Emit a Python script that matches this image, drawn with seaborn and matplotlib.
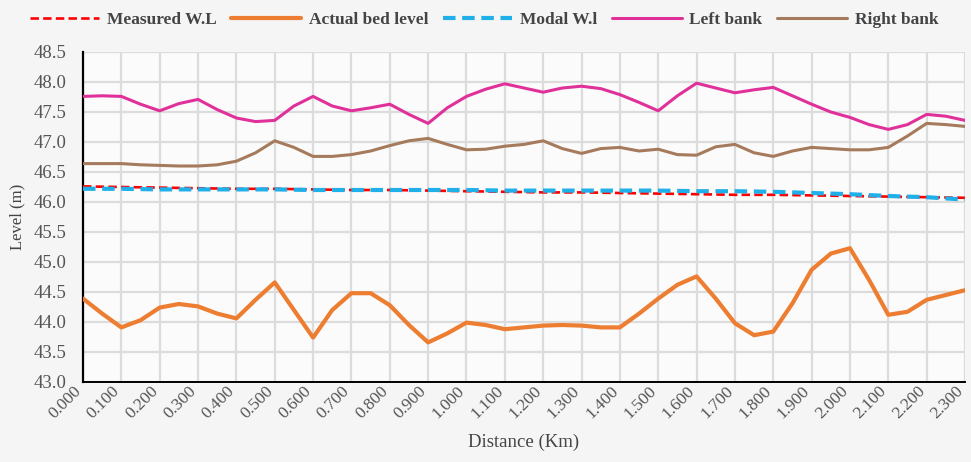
import numpy as np
import pandas as pd
import matplotlib
matplotlib.use("Agg")
import matplotlib.pyplot as plt
import matplotlib.transforms as mtransforms
import seaborn as sns

# ---------------- data ----------------
dist_wl = [0.0, 0.1, 0.2, 0.3, 0.4, 0.5, 0.6, 0.7, 0.8, 0.9, 1.0, 1.1,
           1.2, 1.3, 1.4, 1.5, 1.6, 1.7, 1.8, 1.9, 2.0, 2.1, 2.2, 2.3]
measured_wl = [46.26, 46.25, 46.24, 46.23, 46.22, 46.22, 46.21, 46.20, 46.20, 46.19,
               46.18, 46.17, 46.16, 46.16, 46.15, 46.14, 46.13, 46.12, 46.12, 46.11,
               46.10, 46.09, 46.08, 46.07]
modal_wl = [46.22, 46.22, 46.21, 46.21, 46.21, 46.21, 46.20, 46.20, 46.20, 46.20,
            46.20, 46.19, 46.19, 46.19, 46.19, 46.19, 46.18, 46.18, 46.17, 46.15,
            46.13, 46.10, 46.08, 46.04]

dist_fine = [0.00, 0.05, 0.10, 0.15, 0.20, 0.25, 0.30, 0.35, 0.40, 0.45, 0.50, 0.55,
             0.60, 0.65, 0.70, 0.75, 0.80, 0.85, 0.90, 0.95, 1.00, 1.05, 1.10, 1.15,
             1.20, 1.25, 1.30, 1.35, 1.40, 1.45, 1.50, 1.55, 1.60, 1.65, 1.70, 1.75,
             1.80, 1.85, 1.90, 1.95, 2.00, 2.05, 2.10, 2.15, 2.20, 2.25, 2.30]
actual_bed = [44.39, 44.14, 43.91, 44.03, 44.24, 44.30, 44.26, 44.14, 44.06, 44.37,
              44.66, 44.20, 43.74, 44.20, 44.48, 44.48, 44.28, 43.95, 43.66, 43.81,
              43.99, 43.95, 43.88, 43.91, 43.94, 43.95, 43.94, 43.91, 43.91, 44.14,
              44.39, 44.62, 44.76, 44.39, 43.98, 43.78, 43.84, 44.31, 44.87, 45.14,
              45.23, 44.70, 44.12, 44.17, 44.37, 44.45, 44.53]
left_bank = [47.76, 47.77, 47.76, 47.63, 47.52, 47.64, 47.71, 47.54, 47.40, 47.34,
             47.36, 47.60, 47.76, 47.60, 47.52, 47.57, 47.63, 47.46, 47.31, 47.57,
             47.76, 47.88, 47.97, 47.90, 47.83, 47.90, 47.93, 47.89, 47.79, 47.66,
             47.52, 47.77, 47.98, 47.90, 47.82, 47.87, 47.91, 47.77, 47.63, 47.50,
             47.41, 47.29, 47.21, 47.29, 47.46, 47.43, 47.36]
right_bank = [46.64, 46.64, 46.64, 46.62, 46.61, 46.60, 46.60, 46.62, 46.68, 46.82,
              47.02, 46.91, 46.76, 46.76, 46.79, 46.85, 46.94, 47.02, 47.06, 46.96,
              46.87, 46.88, 46.93, 46.96, 47.02, 46.89, 46.81, 46.89, 46.91, 46.85,
              46.88, 46.79, 46.78, 46.92, 46.96, 46.82, 46.76, 46.85, 46.91, 46.89,
              46.87, 46.87, 46.91, 47.10, 47.31, 47.29, 47.26]

x_ticks = [0.0, 0.1, 0.2, 0.3, 0.4, 0.5, 0.6, 0.7, 0.8, 0.9, 1.0, 1.1,
           1.2, 1.3, 1.4, 1.5, 1.6, 1.7, 1.8, 1.9, 2.0, 2.1, 2.2, 2.3]
y_ticks = [43.0, 43.5, 44.0, 44.5, 45.0, 45.5, 46.0, 46.5, 47.0, 47.5, 48.0, 48.5]

df_wl = pd.DataFrame({"dist": dist_wl, "measured": measured_wl, "modal": modal_wl})
df_fine = pd.DataFrame({"dist": dist_fine, "bed": actual_bed,
                        "left": left_bank, "right": right_bank})

# ---------------- style ----------------
sns.set_theme(style="white")
plt.rcParams["font.family"] = ["Liberation Serif", "DejaVu Serif"]

fig = plt.figure(figsize=(9.71, 4.62), dpi=100, facecolor="#f5f5f5")
ax = fig.add_axes([83 / 971, 1 - 382 / 462, (965 - 83) / 971, (382 - 52) / 462])
ax.set_facecolor("#fbfbfb")

sns.lineplot(data=df_wl, x="dist", y="measured", ax=ax, color="#ff0000",
             linewidth=1.9, label="Measured W.L", zorder=4)
ax.lines[-1].set_dashes([3.2, 1.6])
sns.lineplot(data=df_fine, x="dist", y="bed", ax=ax, color="#ed7d31",
             linewidth=3.0, label="Actual bed level", zorder=3)
sns.lineplot(data=df_wl, x="dist", y="modal", ax=ax, color="#1fb0ea",
             linewidth=3.0, label="Modal W.l", zorder=5)
ax.lines[-1].set_dashes([3.0, 1.6])
sns.lineplot(data=df_fine, x="dist", y="left", ax=ax, color="#e0309a",
             linewidth=2.2, label="Left bank", zorder=3)
sns.lineplot(data=df_fine, x="dist", y="right", ax=ax, color="#a67a5c",
             linewidth=2.2, label="Right bank", zorder=3)
for ln in ax.lines:
    ln.set_solid_joinstyle("round")
    ln.set_solid_capstyle("round")

ax.set_xlim(0, 2.3)
ax.set_ylim(43.0, 48.5)
ax.set_xticks(x_ticks)
ax.set_xticklabels([f"{v:.3f}" for v in x_ticks], rotation=45, ha="right",
                   va="center", rotation_mode="anchor", fontsize=12.5, color="#555555")
ax.set_yticks(y_ticks)
ax.set_yticklabels([f"{v:.1f}" for v in y_ticks], fontsize=13.5, color="#555555")
ax.tick_params(axis="y", length=0, pad=12)
ax.tick_params(axis="x", length=0, pad=5)
shift = mtransforms.ScaledTranslation(-4 / 100, 0, fig.dpi_scale_trans)
for lbl in ax.get_xticklabels():
    lbl.set_transform(lbl.get_transform() + shift)

ax.grid(True, color="#dcdcdc", linewidth=1.6)
ax.set_axisbelow(True)
for s in ["top", "right"]:
    ax.spines[s].set_visible(False)
ax.spines["left"].set_color("black")
ax.spines["left"].set_linewidth(1.6)
ax.spines["bottom"].set_color("black")
ax.spines["bottom"].set_linewidth(1.4)

ax.set_xlabel("Distance (Km)", fontsize=13.5, color="#444444", labelpad=8)
ax.set_ylabel("Level (m)", fontsize=12, color="#444444", labelpad=6)

handles, labels = ax.get_legend_handles_labels()
ax.get_legend().remove()
fig.legend(handles, labels, loc="center left", bbox_to_anchor=(14 / 971, 1 - 20 / 462),
           ncol=5, frameon=False, handlelength=4.0, columnspacing=0.85,
           handletextpad=0.45, prop={"weight": "bold", "size": 12.5,
                                     "family": ["Liberation Serif"]},
           labelcolor="#444444")

fig.savefig("out.png", dpi=100, facecolor=fig.get_facecolor())
